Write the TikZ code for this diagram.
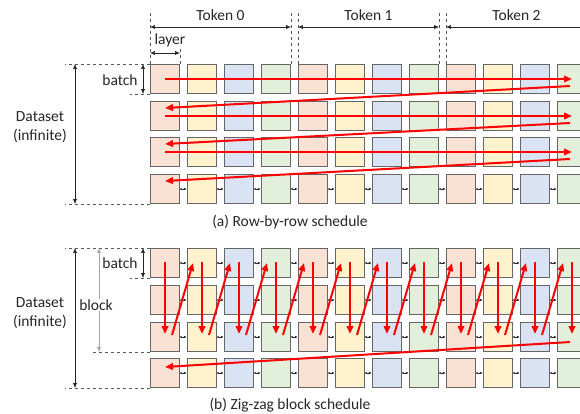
\documentclass[tikz,border=0pt]{standalone}
\usepackage{fontspec}
\setmainfont{Carlito}
\usetikzlibrary{arrows.meta,calc}

\definecolor{lpink}{HTML}{F9E1D4}
\definecolor{lyel}{HTML}{FFF2CC}
\definecolor{lblue}{HTML}{DAE3F3}
\definecolor{lgrn}{HTML}{E2EFDA}

\tikzset{
  cell/.style={draw=black!60, line width=1.3pt, minimum width=29pt, minimum height=29pt, inner sep=0pt},
  link/.style={{Circle[length=1.8pt]}-{Latex[length=3pt,width=2.6pt]}, line width=0.6pt, black!85},
  sched/.style={red, line width=2pt, -{Triangle[length=8pt,width=6.5pt]}},
  dim/.style={{Latex[length=5pt,width=4pt]}-{Latex[length=5pt,width=4pt]}, line width=0.6pt, black!85},
  guide/.style={dashed, line width=0.7pt, black!65},
  lbl/.style={font=\fontsize{15.5}{19}\selectfont, text=black!85, inner sep=0pt, align=center},
}

\begin{document}
\begin{tikzpicture}[x=1pt,y=-1pt]
    \useasboundingbox (0,0) rectangle (580,413);
    \clip (0,0) rectangle (580,413);

    \coordinate (ceil) at (0,12);
    \coordinate (tk) at (0,27);
    \coordinate (ly) at (0,53);
    \coordinate (lyt) at (0,47);
    \coordinate (edge) at (65,0);
    \coordinate (bedge) at (130,0);
    \coordinate (kedge) at (90,0);
    \coordinate (dsx) at (75,0);
    \coordinate (btx) at (143,0);
    \coordinate (bkx) at (99,0);

    % cells: a = row-by-row, b = zig-zag
    \foreach \s/\r/\y in {a/1/79, a/2/116, a/3/152, a/4/189, b/1/263, b/2/300, b/3/337, b/4/373}
      \foreach \c/\col in {1/lpink,2/lyel,3/lblue,4/lgrn,5/lpink,6/lyel,7/lblue,8/lgrn,9/lpink,10/lyel,11/lblue,12/lgrn}
        \node[cell, fill=\col] (\s-\r-\c) at ({128+37*\c},\y) {};

    % layer-to-layer links
    \foreach \s in {a,b}
      \foreach \r in {1,...,4}
        \foreach \c/\nx in {1/2,2/3,3/4,4/5,5/6,6/7,7/8,8/9,9/10,10/11,11/12}
          \draw[link] (\s-\r-\c.east) -- (\s-\r-\nx.west);

    % token spans
    \foreach \p in {a-1-1.north west, a-1-4.north east, a-1-5.north west, a-1-8.north east, a-1-9.north west}
      \draw[guide] (\p) -- (\p |- ceil);
    \draw[dim] (a-1-1.north west |- tk) -- node[lbl, above=6pt] (tok0) {Token 0} (a-1-4.north east |- tk);
    \draw[dim] (a-1-5.north west |- tk) -- node[lbl, above=6pt] (tok1) {Token 1} (a-1-8.north east |- tk);
    \draw[dim] (a-1-9.north west |- tk) -- node[lbl, above=6pt] (tok2) {Token 2} (a-1-12.north east |- tk);

    % layer width
    \draw[guide] (a-1-1.north east) -- (a-1-1.north east |- lyt);
    \draw[dim] (a-1-1.north west |- ly) -- (a-1-1.north east |- ly);
    \node[lbl] (layer) at (170,40) {layer};

    % (a) row-by-row
    \draw[guide] (a-1-1.north west) -- (edge |- a-1-1.north west);
    \draw[guide] (a-4-1.south west) -- (edge |- a-4-1.south west);
    \draw[guide] (a-1-1.south west) -- (bedge |- a-1-1.south west);
    \draw[dim] (btx |- a-1-1.north) -- (btx |- a-1-1.south);
    \node[lbl] (batcha) at (120,80) {batch};
    \draw[dim] (dsx |- a-1-1.north) -- (dsx |- a-4-1.south);
    \node[lbl] (dataa) at (40,127) {Dataset\\(infinite)};

    \foreach \r/\n in {1/2,2/3,3/4} {
      \draw[sched] (a-\r-1.center) -- (a-\r-12.center);
      \draw[sched] ($(a-\r-12.center)+(-2,7)$) -- ($(a-\n-1.center)+(0,-8)$);
    }
    \node[lbl] (capa) at (290,222) {(a) Row-by-row schedule};

    % (b) zig-zag block
    \draw[guide] (b-1-1.north west) -- (edge |- b-1-1.north west);
    \draw[guide] (b-4-1.south west) -- (edge |- b-4-1.south west);
    \draw[guide] (b-1-1.south west) -- (bedge |- b-1-1.south west);
    \draw[guide] (b-3-1.south west) -- (kedge |- b-3-1.south west);
    \draw[dim] (btx |- b-1-1.north) -- (btx |- b-1-1.south);
    \node[lbl] (batchb) at (120,263) {batch};
    \draw[dim, black!35] (bkx |- b-1-1.north) -- (bkx |- b-3-1.south);
    \node[lbl, fill=white, inner sep=1pt] (blockb) at (96,305) {block};
    \draw[dim] (dsx |- b-1-1.north) -- (dsx |- b-4-1.south);
    \node[lbl] (datab) at (40,313) {Dataset\\(infinite)};

    \foreach \c/\nx in {1/2,2/3,3/4,4/5,5/6,6/7,7/8,8/9,9/10,10/11,11/12} {
      \draw[sched] ($(b-1-\c.center)+(0,-1)$) -- ($(b-3-\c.center)+(0,-3)$);
      \draw[sched] ($(b-3-\c.center)+(7,-2)$) -- ($(b-1-\nx.center)+(-9,0)$);
    }
    \draw[sched] ($(b-1-12.center)+(0,-1)$) -- ($(b-3-12.center)+(0,-3)$);
    \draw[sched] ($(b-3-12.center)+(-2,5)$) -- ($(b-4-1.center)+(0,-6)$);
    \node[lbl] (capb) at (290,405) {(b) Zig-zag block schedule};
\end{tikzpicture}
\end{document}
